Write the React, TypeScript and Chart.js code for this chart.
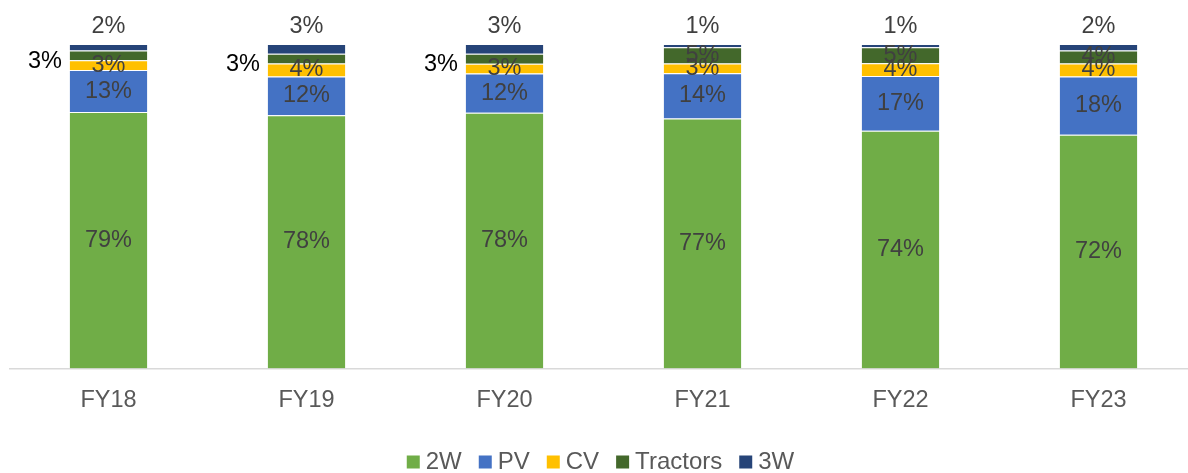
import React, { useEffect, useRef } from "react";
import { Chart, registerables } from "chart.js";

Chart.register(...registerables);

const categories = ["FY18", "FY19", "FY20", "FY21", "FY22", "FY23"];
const seriesNames = ["2W", "PV", "CV", "Tractors", "3W"];
const twoW = [79, 78, 78, 77, 74, 72];
const pv = [13, 12, 12, 14, 17, 18];
const cv = [3, 4, 3, 3, 4, 4];
const tractors = [3, 3, 3, 5, 5, 4];
const threeW = [2, 3, 3, 1, 1, 2];
const colors = ["#70AD47", "#4472C4", "#FFC000", "#43682B", "#264478"];

const FONT = "'Liberation Sans', Arial, sans-serif";

export default function App() {
  const ref = useRef<HTMLCanvasElement | null>(null);

  useEffect(() => {
    const raw = [twoW, pv, cv, tractors, threeW];
    const totals = categories.map((_, i) => raw.reduce((s, arr) => s + arr[i], 0));

    const labelPlugin = {
      id: "segLabels",
      afterDatasetsDraw(chart: any) {
        const ctx = chart.ctx;
        ctx.save();
        ctx.font = `23.5px ${FONT}`;
        ctx.textBaseline = "middle";
        chart.data.datasets.forEach((ds: any, di: number) => {
          const meta = chart.getDatasetMeta(di);
          meta.data.forEach((el: any, i: number) => {
            const v = ds.rawValues[i];
            const text = `${v}%`;
            const cy = (el.y + el.base) / 2;
            if (di === 4) {
              ctx.fillStyle = "#404040";
              ctx.textAlign = "center";
              ctx.fillText(text, el.x, el.y - 17);
            } else if (di === 3 && v <= 3) {
              ctx.fillStyle = "#000000";
              ctx.textAlign = "right";
              ctx.fillText(text, el.x - el.width / 2 - 7, cy + 6);
            } else {
              ctx.fillStyle = "#404040";
              ctx.textAlign = "center";
              ctx.fillText(text, el.x, cy);
            }
          });
        });
        ctx.restore();
      },
    };

    const chart = new Chart(ref.current as HTMLCanvasElement, {
      type: "bar",
      data: {
        labels: categories,
        datasets: seriesNames.map((name, si) => ({
          label: name,
          data: raw[si].map((v, i) => (v / totals[i]) * 100),
          rawValues: raw[si],
          backgroundColor: colors[si],
          borderColor: "rgba(255,255,255,0.45)",
          borderWidth: 1,
          barPercentage: 0.4,
          categoryPercentage: 1,
        })) as any,
      },
      options: {
        responsive: false,
        animation: false,
        devicePixelRatio: 1,
        layout: { padding: { left: 9.5, right: 2.5, top: 44, bottom: 0 } },
        scales: {
          x: {
            stacked: true,
            grid: { display: false },
            border: { display: true, color: "#D9D9D9", width: 1.5 },
            ticks: { color: "#595959", font: { family: FONT, size: 23.5 }, padding: 10 },
            title: { display: true, text: "", font: { size: 2 }, padding: { top: 0, bottom: 0 } },
          },
          y: { stacked: true, display: false, min: 0, max: 100 },
        },
        plugins: {
          legend: {
            position: "bottom",
            labels: {
              color: "#595959",
              font: { family: FONT, size: 24 },
              usePointStyle: true,
              pointStyle: "rect",
              boxWidth: 1,
              boxHeight: 13,
              padding: 23,
              generateLabels: (c: any) =>
                Chart.defaults.plugins.legend.labels
                  .generateLabels(c)
                  .map((l: any) => ({ ...l, lineWidth: 0, pointStyle: "rect" })),
            },
          },
          tooltip: { enabled: false },
        },
      },
      plugins: [labelPlugin],
    } as any);
    return () => chart.destroy();
  }, []);

  return (
    <div style={{ position: "fixed", left: 0, top: 0, width: 1188, height: 473, overflow: "hidden", background: "#fff" }}>
      <canvas ref={ref} width={1200} height={484} style={{ display: "block" }} />
    </div>
  );
}
